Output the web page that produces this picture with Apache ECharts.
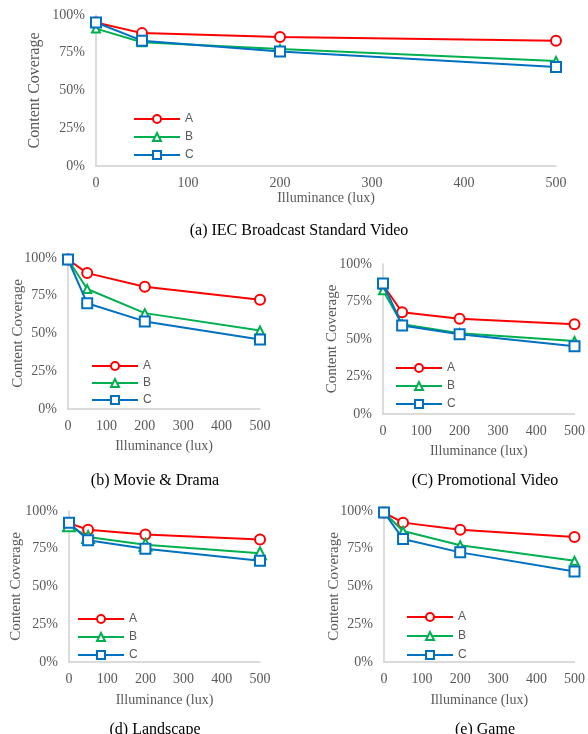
<!DOCTYPE html>
<html lang="en">
<head>
	<meta charset="utf-8">
	<title>Content Coverage</title>
	<script src="https://cdn.jsdelivr.net/npm/echarts@6/dist/echarts.min.js"></script>
	<style type="text/css">
		body {margin:0;background:#fff}
		#chart {width:588px;height:734px}
	</style>
</head>
<body>
	<div id="chart"></div>
	<script>
		// illuminance levels (lux)
		var lux = [0, 50, 200, 500];
		var xTicks = [0, 100, 200, 300, 400, 500];

		// content coverage (%) per panel, series A / B / C
		var ieA = [95, 88, 85.5, 83];
		var ieB = [91, 82, 77.5, 69.5];
		var ieC = [95, 83, 75.8, 65.5];

		var movieA = [99, 90, 81, 72.3];
		var movieB = [99, 79.5, 63.5, 52];
		var movieC = [99, 70, 58, 46];

		var promoA = [86, 67.8, 63.5, 59.8];
		var promoB = [82.5, 59.8, 53.8, 48.7];
		var promoC = [87, 59, 53.2, 45.2];

		var landA = [92, 87.6, 84.5, 81.2];
		var landB = [90.5, 82.8, 77.7, 72];
		var landC = [92.3, 80.6, 75, 67];

		var gameA = [99, 92.3, 87.6, 82.8];
		var gameB = [99, 86.8, 77.3, 67];
		var gameC = [99, 81.5, 72.6, 60];

		var captions = ['(a) IEC Broadcast Standard Video', '(b) Movie & Drama', '(C) Promotional Video', '(d) Landscape', '(e) Game'];

		var panels = [
			{data: [ieA, ieB, ieC], grid: {left: 96, right: 32, top: 15, height: 151}, yGap: 53, yName: 16, xGap: 25, legend: {left: 128, top: 108, gap: 6}, cap: {left: 294, top: 218}},
			{data: [movieA, movieB, movieC], grid: {left: 68, right: 328, top: 258, height: 151}, yGap: 42, yName: 15, xGap: 30, legend: {left: 86, top: 355, gap: 5}, cap: {left: 150, top: 468}},
			{data: [promoA, promoB, promoC], grid: {left: 383, right: 13, top: 264, height: 150}, yGap: 43, yName: 15, xGap: 30, legend: {left: 390, top: 357, gap: 6}, cap: {left: 480, top: 468}},
			{data: [landA, landB, landC], grid: {left: 69, right: 328, top: 511, height: 151}, yGap: 45, yName: 15, xGap: 31, legend: {left: 72, top: 608, gap: 6}, cap: {left: 150, top: 717}},
			{data: [gameA, gameB, gameC], grid: {left: 384, right: 13, top: 511, height: 151}, yGap: 42, yName: 15, xGap: 31, legend: {left: 401, top: 606, gap: 7}, cap: {left: 480, top: 717}}
		];

		var names = ['A', 'B', 'C'];
		var colors = ['#FF0000', '#00B050', '#0070C0'];
		var symbols = ['emptyCircle', 'emptyTriangle', 'emptyRect'];
		var sizes = [10, 8, 10];
		var gray = '#595959';
		var serif = '"Liberation Serif", "DejaVu Serif", serif';

		var option = {
			animation: false,
			backgroundColor: '#ffffff',
			title: [], legend: [], grid: [], xAxis: [], yAxis: [], series: []
		};

		panels.forEach(function (p, i) {
			option.grid.push(p.grid);
			option.xAxis.push({
				type: 'value', gridIndex: i, min: 0, max: 500, interval: 100,
				name: 'Illuminance (lux)', nameLocation: 'middle', nameGap: p.xGap,
				nameMoveOverlap: false,
				nameTextStyle: {color: gray, fontFamily: serif, fontSize: 14},
				axisLine: {lineStyle: {color: '#d0d0d0', width: 1.5}},
				axisTick: {show: false},
				splitLine: {show: false},
				axisLabel: {color: gray, fontFamily: serif, fontSize: 14, margin: 10,
					customValues: xTicks}
			});
			option.yAxis.push({
				type: 'value', gridIndex: i, min: 0, max: 100, interval: 25,
				name: 'Content Coverage', nameLocation: 'middle', nameGap: p.yGap,
				nameMoveOverlap: false,
				nameTextStyle: {color: gray, fontFamily: serif, fontSize: p.yName},
				axisLine: {show: true, lineStyle: {color: '#d0d0d0', width: 1.5}},
				axisTick: {show: false},
				splitLine: {show: false},
				axisLabel: {color: gray, fontFamily: serif, fontSize: 14, margin: 11,
					formatter: function (v) { return v + '%'; }}
			});
			option.legend.push({
				orient: 'vertical', left: p.legend.left, top: p.legend.top,
				itemWidth: 46, itemHeight: 10, itemGap: p.legend.gap,
				data: names,
				textStyle: {color: gray, fontSize: 12, fontFamily: '"Liberation Sans", Arial, sans-serif'}
			});
			option.title.push({
				text: captions[i], left: p.cap.left, top: p.cap.top, textAlign: 'center',
				textStyle: {color: '#000', fontFamily: serif, fontSize: 16, fontWeight: 'normal'}
			});
			p.data.forEach(function (vals, k) {
				var sz = sizes[k];
				if (i == 3 && k == 1) sz = 12;
				option.series.push({
					name: names[k], type: 'line', xAxisIndex: i, yAxisIndex: i,
					data: lux.map(function (x, j) { return [x, vals[j]]; }),
					symbol: symbols[k], symbolSize: sz,
					lineStyle: {color: colors[k], width: 2},
					itemStyle: {color: colors[k], borderWidth: 2},
					z: 10 + k
				});
			});
		});

		var myChart = echarts.init(document.getElementById('chart'));
		myChart.setOption(option);
	</script>
</body>
</html>
